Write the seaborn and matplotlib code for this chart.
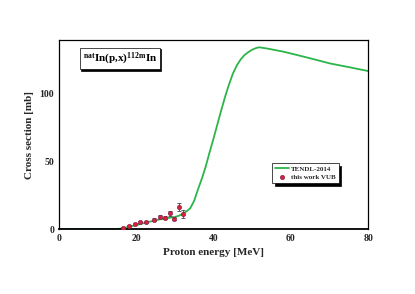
import matplotlib
matplotlib.use("Agg")
import matplotlib.pyplot as plt
import matplotlib.transforms as mtransforms
import seaborn as sns
import numpy as np
import pandas as pd

# TENDL-2014 curve
tendl_e = [0, 10, 15, 16, 17, 18, 19, 20, 22, 24, 26, 28, 30, 31, 32, 33, 34, 35, 36, 37, 38, 39, 40, 41, 42, 43, 44, 45, 46, 47, 48, 49, 50, 51, 51.8, 54, 58, 62, 66.7, 70, 75, 80]
tendl_xs = [0, 0, 0, 0.3, 0.9, 1.6, 2.3, 3.0, 4.4, 5.8, 7.1, 8.1, 8.9, 9.8, 11.3, 13.0, 15.5, 21.0, 29.5, 37.5, 46.5, 57.0, 67.0, 77.5, 88.0, 98.0, 107.0, 115.0, 121.0, 125.5, 128.8, 131.0, 132.8, 134.0, 134.6, 133.6, 131.4, 128.6, 125.2, 122.7, 119.9, 117.0]

# this work VUB
exp_e = [16.6, 18.1, 19.6, 21.0, 22.6, 24.5, 26.2, 27.5, 28.7, 29.8, 31.1, 32.2]
exp_xs = [0.5, 2.2, 3.7, 5.4, 5.4, 6.9, 9.1, 8.4, 11.6, 7.7, 16.0, 10.9]
exp_err = [0.3, 0.5, 0.6, 0.8, 0.8, 0.9, 1.2, 1.1, 1.8, 1.1, 3.0, 3.0]

sns.set_style("white")
plt.rcParams['font.family'] = ['Liberation Serif', 'DejaVu Serif']
plt.rcParams['font.weight'] = 'bold'
plt.rcParams['mathtext.fontset'] = 'custom'
plt.rcParams['mathtext.rm'] = 'Liberation Serif:bold'
plt.rcParams['mathtext.bf'] = 'Liberation Serif:bold'
plt.rcParams['mathtext.it'] = 'Liberation Serif:bold'

fig = plt.figure(figsize=(4.15, 2.94), dpi=100)
ax = fig.add_axes([0.142, 0.221, 0.745, 0.643])

df_t = pd.DataFrame({"E": tendl_e, "xs": tendl_xs})
df_x = pd.DataFrame({"E": exp_e, "xs": exp_xs, "err": exp_err})

sns.lineplot(data=df_t, x="E", y="xs", ax=ax, color="#2bb54a", lw=1.3, label="TENDL-2014")
ax.errorbar(df_x["E"], df_x["xs"], yerr=df_x["err"], fmt="none", ecolor="#444444", elinewidth=0.6, capsize=1.2, capthick=0.6, zorder=3)
sns.scatterplot(data=df_x, x="E", y="xs", ax=ax, color="#d8203c", edgecolor="#7a2050", linewidth=0.4, s=10, marker="o", label="this work VUB", zorder=4)

ax.set_xlim(0, 80)
ax.set_ylim(0, 140)
ax.set_xticks([0, 20, 40, 60, 80])
ax.set_yticks([0, 50, 100])
ax.set_xticks(np.arange(0, 81, 5), minor=True)
ax.set_yticks(np.arange(0, 141, 10), minor=True)
ax.tick_params(which='both', direction='in', top=False, right=False, labelsize=7)
ax.tick_params(which='major', length=3, width=0.6)
ax.tick_params(which='minor', length=1.5, width=0.5)
for lab in ax.get_xticklabels() + ax.get_yticklabels():
    lab.set_fontweight('bold')
for s in ax.spines.values():
    s.set_linewidth(0.9)
    s.set_color('black')
ax.spines['bottom'].set_linewidth(1.3)

ax.set_xlabel("Proton energy [MeV]", fontsize=8, fontweight='bold', labelpad=4)
ax.set_ylabel("Cross section [mb]", fontsize=8, fontweight='bold', labelpad=4)

leg = ax.legend(loc='upper left', bbox_to_anchor=(0.69, 0.35), fontsize=5, frameon=True,
                fancybox=False, shadow={'color': 'black', 'alpha': 1.0}, borderpad=0.4, handlelength=2.0,
                labelspacing=0.4, handletextpad=0.3, borderaxespad=0)
leg.get_frame().set_edgecolor('black')
leg.get_frame().set_linewidth(0.5)

title = r"$^{\mathrm{nat}}$In(p,x)$^{\mathrm{112m}}$In"
shadow_tr = ax.transAxes + mtransforms.ScaledTranslation(1.2/100, -1.2/100, fig.dpi_scale_trans)
ax.text(0.078, 0.902, title, transform=shadow_tr, fontsize=8, fontweight='bold', color='black',
        va='center', ha='left',
        bbox=dict(boxstyle='square,pad=0.25', facecolor='black', edgecolor='black', linewidth=0.5))
ax.text(0.078, 0.902, title, transform=ax.transAxes, fontsize=8, fontweight='bold', color='black',
        va='center', ha='left',
        bbox=dict(boxstyle='square,pad=0.25', facecolor='white', edgecolor='black', linewidth=0.5))

fig.savefig("out.png", dpi=100)
